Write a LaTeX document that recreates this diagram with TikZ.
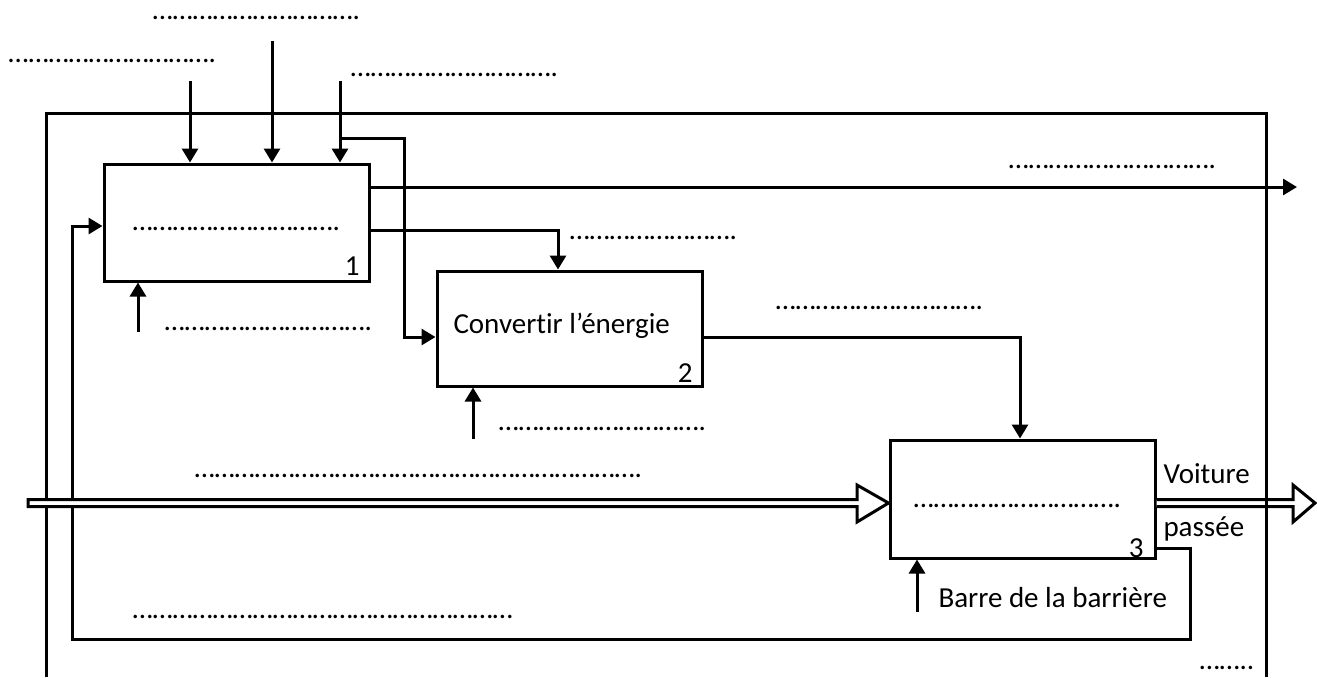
\documentclass[tikz,border=0pt]{standalone}
\usepackage{fontspec}
\setmainfont{Carlito}[RawFeature={-liga;-clig;-calt;-dlig}]
\usetikzlibrary{arrows.meta}
\ExplSyntaxOn
\cs_new:Npn \mydots #1 { \prg_replicate:nn {#1} {…} }
\ExplSyntaxOff
\begin{document}
\begin{tikzpicture}[x=0.5pt,y=-0.5pt,line width=1.5pt,
  box/.style={draw,rectangle,inner sep=0pt},
  arr/.style={-{Triangle[length=7pt,width=8pt]}},
  lbl/.style={anchor=base west,inner sep=0pt,font=\fontsize{14.5}{16}\selectfont},
  num/.style={anchor=base east,inner sep=0pt,font=\fontsize{14.5}{16}\selectfont},
  hollow/.style={draw,fill=white,line width=1.5pt,miter limit=10}]
\useasboundingbox (0,0) rectangle (1317,677);
% outer frame
\draw (46,677) -- (46,113) -- (1266,113) -- (1266,677);
% boxes
\node[box,minimum width=132.5pt,minimum height=58.5pt] (b1) at (236.5,222.5) {};
\node[box,minimum width=132.5pt,minimum height=57.5pt] (b2) at (569.5,328.5) {};
\node[box,minimum width=132.5pt,minimum height=59pt] (b3) at (1022.5,499) {};
% numbers
\node[num] (n1) at (361,275) {1};
\node[num] (n2) at (694,382) {2};
\node[num] (n3) at (1145,557) {3};
% box texts
\node[lbl] (tb1) at (131,230) {\mydots{10}.};
\node[lbl] (tb2) at (452,333) {Convertir l’énergie};
\node[lbl] (tb3) at (912,507) {\mydots{10}.};
% coordinates
\coordinate (i1) at (190,81);
\coordinate (i2) at (272,41);
\coordinate (i3) at (340,81);
\coordinate (j) at (340,138);
\coordinate (c1) at (138,332);
\coordinate (c2) at (473,439);
\coordinate (c3) at (917,612);
\coordinate (o1) at (1297,187);
% inputs box1
\draw[arr] (i1) -- (i1 |- b1.north);
\draw[arr] (i2) -- (i2 |- b1.north);
\draw[arr] (i3) -- (i3 |- b1.north);
\draw[arr] (j) -- (404,138) |- (b2.west |- 0,337);
\draw[arr] (c1) -- (c1 |- b1.south);
% outputs box1
\draw[arr] (b1.east |- o1) -- (o1);
\draw[arr] (b1.east |- 0,230) -| (558,0 |- b2.north);
% box2
\draw[arr] (c2) -- (c2 |- b2.south);
\draw[arr] (b2.east |- 0,337) -| (1020,0 |- b3.north);
% box3
\draw[arr] (c3) -- (c3 |- b3.south);
\draw[arr] (b3.east |- 0,548) -- (1190,548) |- (72,639) |- (b1.west |- 0,226);
% hollow arrows
\draw[hollow] (28,499.5) -- (857,499.5) -- (857,485) -- (b3.west |- 0,503) -- (857,522) -- (857,506.5) -- (28,506.5) -- cycle;
\draw[hollow] (b3.east |- 0,499.5) -- (1293,499.5) -- (1293,485) -- (1315,503) -- (1293,522) -- (1293,506.5) -- (b3.east |- 0,506.5);
\draw (1266,480) -- (1266,530);
% labels
\node[lbl] (t1) at (151,19) {\mydots{10}.};
\node[lbl] (t2) at (7,62) {\mydots{10}.};
\node[lbl] (t3) at (349,76) {\mydots{10}.};
\node[lbl] (tc1) at (163,330) {\mydots{10}.};
\node[lbl] (tout1) at (1007,168) {\mydots{10}.};
\node[lbl] (tm) at (568,239) {\mydots{8}.};
\node[lbl] (to2) at (774,309) {\mydots{10}.};
\node[lbl] (tc2) at (497,430) {\mydots{10}.};
\node[lbl] (tin) at (193,477) {\mydots{22}.};
\node[lbl] (tfb) at (131,618) {\mydots{19}};
\node[lbl] (tcorner) at (1198,669) {\mydots{2}..};
\node[lbl] (tv) at (1162,483) {Voiture};
\node[lbl] (tp) at (1162,536) {passée};
\node[lbl] (tbar) at (937,607) {Barre de la barrière};
\end{tikzpicture}
\end{document}
